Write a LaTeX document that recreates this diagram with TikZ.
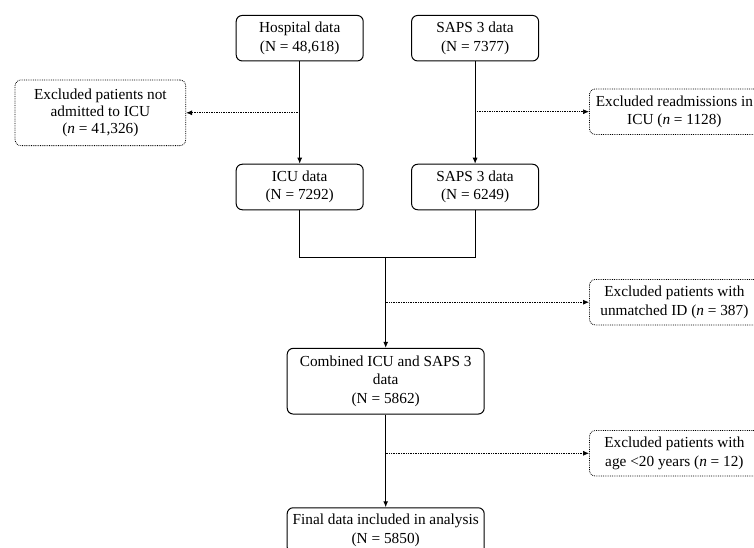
\documentclass[tikz,border=0pt]{standalone}
\usepackage{fontspec}
\setmainfont{Liberation Serif}
\usetikzlibrary{positioning, arrows.meta}

\begin{document}
\begin{tikzpicture}[
        x=1pt, y=1pt,
        node distance=102.3pt and 47.4pt,
        box/.style={draw, line width=1pt, rounded corners=6pt, align=center, minimum width=127pt, minimum height=45.5pt, inner sep=2pt, font=\fontsize{15.3}{18.4}\selectfont},
        exclbox/.style={box, line width=0.8pt, densely dotted, minimum width=170pt},
        arrow/.style={draw, line width=1pt, -{Latex[length=6pt,width=5pt]}},
        dotarrow/.style={draw, line width=0.7pt, densely dotted, -{Latex[length=6pt,width=5pt]}}
    ]
    \useasboundingbox (0,0) rectangle (754,547);

    % Datenquellen
    \node (hosp) [box] at (299.7,508.8) {Hospital data\\(N = 48,618)};
    \node (saps) [box, right=of hosp] {SAPS 3 data\\(N = 7377)};

    \node (icu) [box, below=of hosp] {ICU data\\(N = 7292)};
    \node (saps2) [box, below=of saps] {SAPS 3 data\\(N = 6249)};

    \node (comb) [box, minimum width=197pt, minimum height=65.7pt] at (385.7,165.8) {Combined ICU and SAPS 3\\data\\(N = 5862)};
    \node (final) [box, minimum width=197pt, below=92.7pt of comb] {Final data included in analysis\\(N = 5850)};

    % Ausschluesse
    \node (excl1) [exclbox, minimum width=170.7pt, minimum height=65.7pt, font=\fontsize{15.3}{16.7}\selectfont] at (100.4,434.2) {Excluded patients not\\admitted to ICU\\(\textit{n} = 41,326)};
    \node (readm) [exclbox, anchor=west] at (589,435.3) {Excluded readmissions in\\ICU (\textit{n} = 1128)};
    \node (unmatch) [exclbox, anchor=west] at (589,244.8) {Excluded patients with\\unmatched ID (\textit{n} = 387)};
    \node (age) [exclbox, anchor=west] at (589,93.7) {Excluded patients with\\age <20 years (\textit{n} = 12)};

    \coordinate (merge) at (385.7,289.3);
    \coordinate (b1) at (hosp |- excl1);
    \coordinate (b2) at (saps |- readm);
    \coordinate (b3) at (merge |- unmatch);
    \coordinate (b4) at (comb |- age);

    % Verbindungen
    \draw[arrow] (hosp) -- (icu);
    \draw[arrow] (saps) -- (saps2);
    \draw[line width=1pt] (icu) |- (merge) -| (saps2);
    \draw[arrow] (merge) -- (comb);
    \draw[arrow] (comb) -- (final);

    \draw[dotarrow] (b1) -- (excl1);
    \draw[dotarrow] (b2) -- (readm);
    \draw[dotarrow] (b3) -- (unmatch);
    \draw[dotarrow] (b4) -- (age);

\end{tikzpicture}
\end{document}
